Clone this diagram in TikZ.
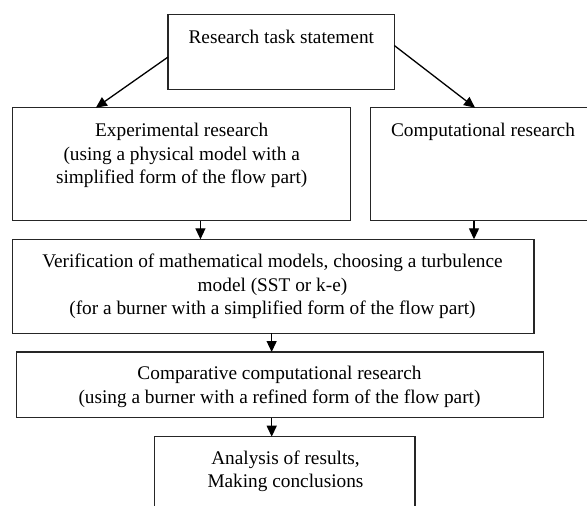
\documentclass[tikz,border=0pt]{standalone}
\usepackage{fontspec}
\setmainfont{Liberation Serif}
\usetikzlibrary{arrows.meta,calc}
\begin{document}
\begin{tikzpicture}[x=1pt,y=-1pt]
\tikzset{
  box/.style={draw=black!85, line width=1.4pt, inner sep=0pt, outer sep=0pt},
  lbl/.style={font=\fontsize{19.3}{23.5}\selectfont, align=center, inner sep=0pt, anchor=north, text=black},
  arr/.style={draw=black, line width=1.3pt, -{Triangle[length=11pt,width=10pt]}}
}
\useasboundingbox (0,0) rectangle (587,506);
% boxes
\node[box, minimum width=226.3pt, minimum height=75pt]   (top)    at (281.15,51.8)  {};
\node[box, minimum width=338.4pt, minimum height=113pt]  (exp)    at (181.5,164.2)  {};
\node[box, minimum width=229.3pt, minimum height=113pt]  (comp)   at (485.35,164.2) {};
\node[box, minimum width=521.7pt, minimum height=94pt]   (ver)    at (273.15,286.3) {};
\node[box, minimum width=526.6pt, minimum height=65.7pt] (compar) at (280,384.85)   {};
\node[box, minimum width=260.7pt, minimum height=83.3pt] (anal)   at (284.65,478.35){};
% texts
\node[lbl] (topT) at (281.3,28) {\rule{0pt}{15pt}Research task statement};
\node[lbl] (expT) at (181.7,121.7) {\rule{0pt}{15pt}Experimental research\\(using a physical model with a\\simplified form of the flow part)};
\node[lbl] (compT) at (483,121) {\rule{0pt}{15pt}Computational research};
\node[lbl] (verT) at (272.5,252.3) {\rule{0pt}{15pt}Verification of mathematical models, choosing a turbulence\\model (SST or k-e)\\(for a burner with a simplified form of the flow part)};
\node[lbl] (comparT) at (279.5,364.3) {\rule{0pt}{15pt}Comparative computational research\\(using a burner with a refined form of the flow part)};
\node[lbl] (analT) at (285.5,449) {\rule{0pt}{15pt}Analysis of results,\\Making conclusions};
% connectors
\coordinate (s1) at ($(top.north west)!0.57!(top.south west)$);
\coordinate (e1) at ($(exp.north west)!0.247!(exp.north east)$);
\coordinate (s2) at ($(top.north east)!0.416!(top.south east)$);
\coordinate (e2) at ($(comp.north west)!0.455!(comp.north east)$);
\draw[arr] (s1) -- (e1);
\draw[arr] (s2) -- (e2);
\coordinate (s3) at ($(exp.south west)!0.556!(exp.south east)$);
\coordinate (s4) at ($(comp.south west)!0.4505!(comp.south east)$);
\draw[arr] (s3) -- (s3 |- ver.north);
\draw[arr] (s4) -- (s4 |- ver.north);
\coordinate (s5) at ([xshift=-1.5pt]ver.south);
\draw[arr] (s5) -- (s5 |- compar.north);
\coordinate (s6) at ([xshift=-8.3pt]compar.south);
\draw[arr] (s6) -- (s6 |- anal.north);
\end{tikzpicture}
\end{document}
